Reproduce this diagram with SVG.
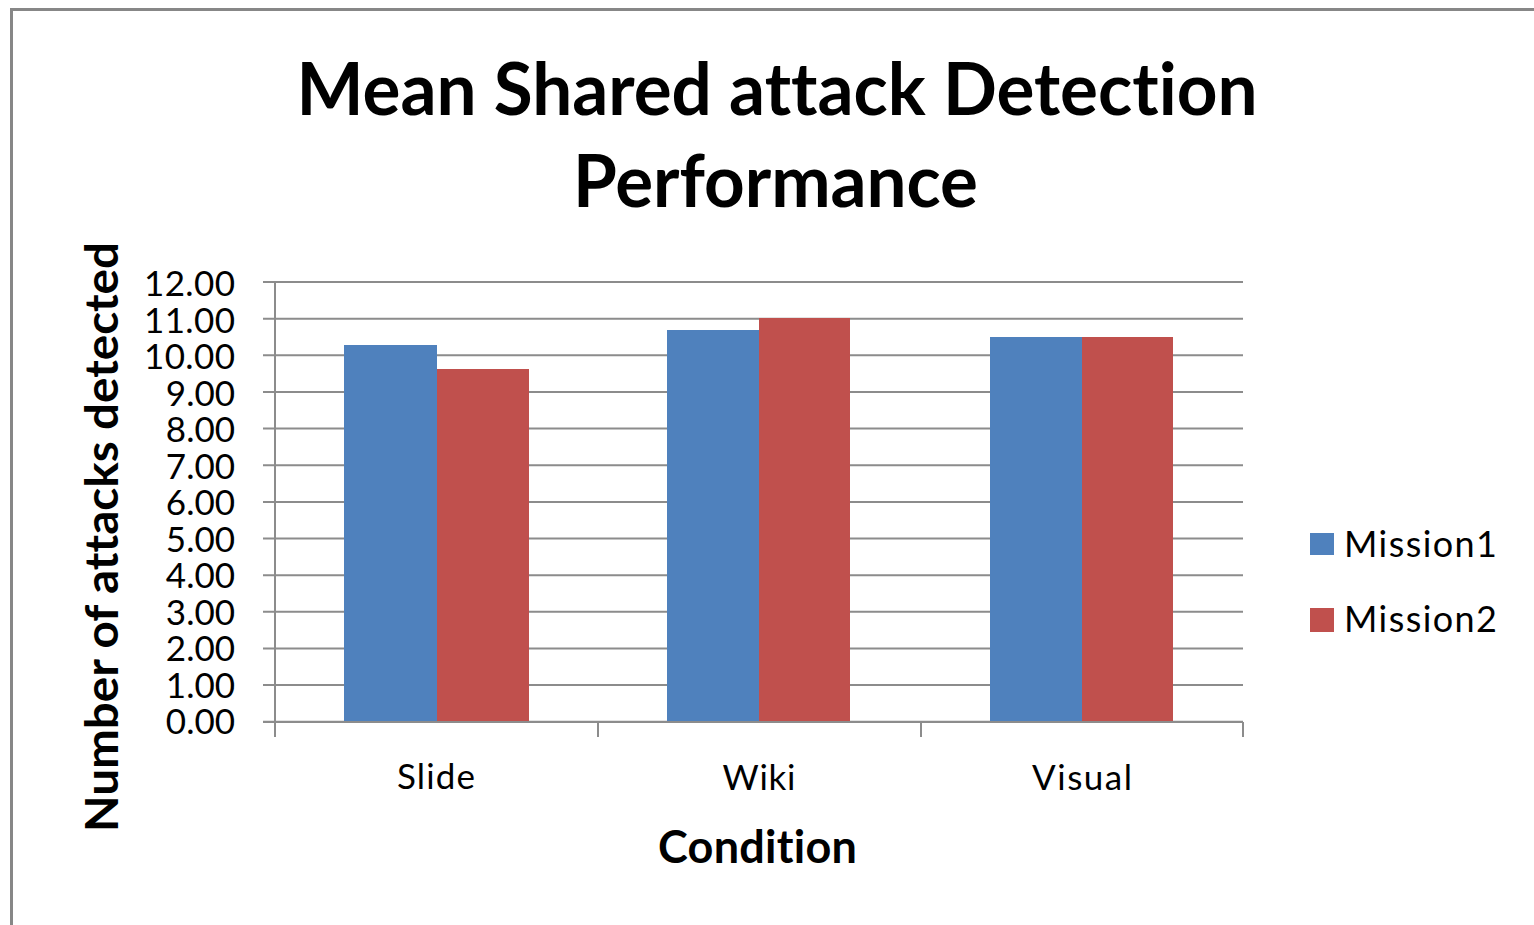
<svg xmlns="http://www.w3.org/2000/svg" width="1534" height="925" viewBox="0 0 1534 925">
  <style>
    text { font-family: Lato, "Liberation Sans", sans-serif; font-variant-ligatures: none; fill: #000; }
    .frame { fill: none; stroke: #878787; stroke-width: 3; }
    .grid { stroke: #8c8c8c; stroke-width: 2; fill: none; }
    .axis { stroke: #8c8c8c; stroke-width: 2; fill: none; }
    .m1 { fill: #4F81BD; }
    .m2 { fill: #C0504D; }
    .title { font-weight: bold; font-size: 72px; text-anchor: middle; }
    .axtitle { font-weight: bold; font-size: 45px; text-anchor: middle; }
    .tick { font-size: 35px; text-anchor: end; }
    .cat { font-size: 35px; text-anchor: middle; }
    .leg { font-size: 36px; }
  </style>

  <rect width="1534" height="925" fill="#fff"/>
  <!-- chart frame (right and bottom edges lie outside the canvas) -->
  <path class="frame" d="M11.5,925 V9.5 H1534"/>

  <!-- title -->
  <g id="title">
    <text class="title" x="777" y="115" textLength="961" lengthAdjust="spacingAndGlyphs">Mean Shared attack Detection</text>
    <text class="title" x="775.5" y="207" textLength="405" lengthAdjust="spacingAndGlyphs">Performance</text>
  </g>

  <!-- horizontal gridlines, 0 to 12 -->
  <g id="gridlines">
    <path class="grid" d="M263,282H1243 M263,318.7H1243 M263,355.3H1243 M263,392H1243 M263,428.6H1243 M263,465.3H1243 M263,501.9H1243 M263,538.6H1243 M263,575.2H1243 M263,611.8H1243 M263,648.5H1243 M263,685.1H1243 M263,721.7H1243"/>
  </g>

  <!-- value axis labels -->
  <g id="y-axis-labels">
    <text class="tick" x="235" y="296" textLength="91">12.00</text>
    <text class="tick" x="235" y="332.5" textLength="91">11.00</text>
    <text class="tick" x="235" y="369" textLength="91">10.00</text>
    <text class="tick" x="235" y="405.5">9.00</text>
    <text class="tick" x="235" y="442">8.00</text>
    <text class="tick" x="235" y="478.5">7.00</text>
    <text class="tick" x="235" y="515">6.00</text>
    <text class="tick" x="235" y="551.5">5.00</text>
    <text class="tick" x="235" y="588">4.00</text>
    <text class="tick" x="235" y="624.5">3.00</text>
    <text class="tick" x="235" y="661">2.00</text>
    <text class="tick" x="235" y="697.5">1.00</text>
    <text class="tick" x="235" y="734">0.00</text>
  </g>

  <!-- bars -->
  <g id="series-mission1">
    <rect class="m1" x="344" y="345" width="93" height="377"/>
    <rect class="m1" x="667" y="330" width="92" height="392"/>
    <rect class="m1" x="990" y="337" width="92" height="385"/>
  </g>
  <g id="series-mission2">
    <rect class="m2" x="437" y="369" width="92" height="353"/>
    <rect class="m2" x="759" y="318" width="91" height="404"/>
    <rect class="m2" x="1082" y="337" width="91" height="385"/>
  </g>

  <!-- axes and category ticks -->
  <g id="axes">
    <path class="axis" d="M275,282V737 M263,722H1243 M598,722V737 M921,722V737 M1243,722V737"/>
  </g>

  <!-- category labels -->
  <g id="x-axis-labels">
    <text class="cat" x="436" y="789" textLength="78">Slide</text>
    <text class="cat" x="759" y="790" textLength="73">Wiki</text>
    <text class="cat" x="1082" y="790" textLength="100">Visual</text>
  </g>

  <!-- axis titles -->
  <text class="axtitle" x="757.5" y="863" textLength="199">Condition</text>
  <text class="axtitle" transform="translate(118,537) rotate(-90)" x="0" y="0" textLength="590" lengthAdjust="spacingAndGlyphs">Number of attacks detected</text>

  <!-- legend -->
  <g id="legend">
    <g id="legend-mission1">
      <rect class="m1" x="1310" y="533" width="24" height="22"/>
      <text class="leg" x="1344" y="557" textLength="153">Mission1</text>
    </g>
    <g id="legend-mission2">
      <rect class="m2" x="1310" y="608" width="24" height="24"/>
      <text class="leg" x="1344" y="632" textLength="153">Mission2</text>
    </g>
  </g>
</svg>
